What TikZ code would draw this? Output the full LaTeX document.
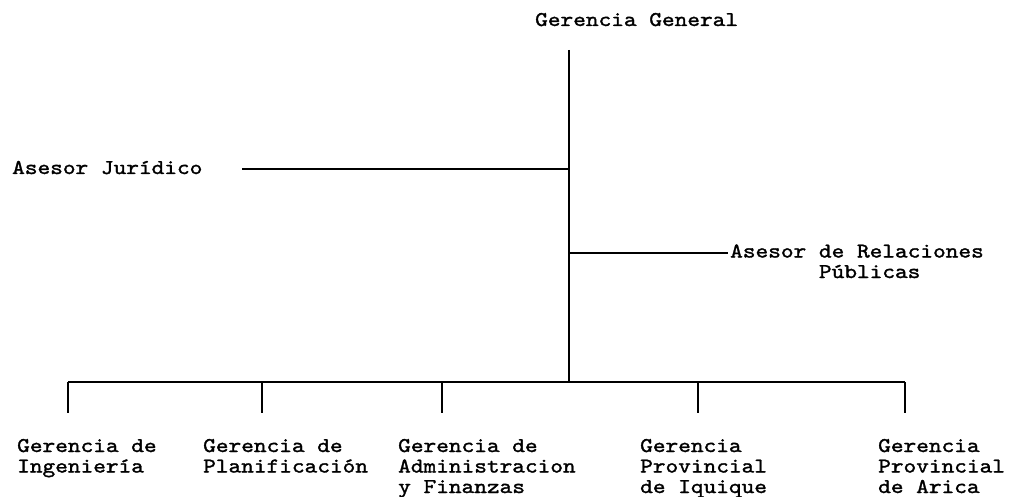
\documentclass[tikz,border=0pt]{standalone}
\usepackage{fontspec}
\setmonofont{lmmono10-regular}[Extension=.otf,FakeStretch=1.15,FakeBold=1.5]
\tikzset{label text/.style={inner sep=0pt,anchor=base west,align=left,
    font=\ttfamily\fontsize{21}{20.5}\selectfont},
  link/.style={line width=1.6pt}}
\begin{document}
\begin{tikzpicture}
  [x=1pt,y=-1pt,every node/.style={label text}]
  \useasboundingbox (0,0) rectangle (1011,497);
  % base anchor = baseline of the last line
  \node (gg) at (535,26) {Gerencia General};
  \node (aj) at (12,174) {Asesor Jurídico};
  \node (arp) at (730,278) {Asesor de Relaciones\\\phantom{Asesor }Públicas};
  \node (gi) at (17,472.5) {Gerencia de\\Ingeniería};
  \node (gp) at (203,472.5) {Gerencia de\\Planificación};
  \node (gaf) at (398,493) {Gerencia de\\Administracion\\y Finanzas};
  \node (gpi) at (640,493) {Gerencia\\Provincial\\de Iquique};
  \node (gpa) at (878,493) {Gerencia\\Provincial\\de Arica};
  \coordinate (top) at (569,50);
  \coordinate (bus) at (569,382);
  \coordinate (aj-end) at (242,169);
  \coordinate (arp-end) at (728,253);
  \coordinate (b1) at (68,382);
  \coordinate (b2) at (262,382);
  \coordinate (b3) at (442,382);
  \coordinate (b4) at (698,382);
  \coordinate (b5) at (905,382);
  \draw[link] (top) -- (bus);
  \draw[link] (aj-end) -- (aj-end -| top);
  \draw[link] (arp-end -| top) -- (arp-end);
  \draw[link] (b1) -- (b5);
  \foreach \i in {1,...,5}
    \draw[link] (b\i) -- ++(0,31);
\end{tikzpicture}
\end{document}
